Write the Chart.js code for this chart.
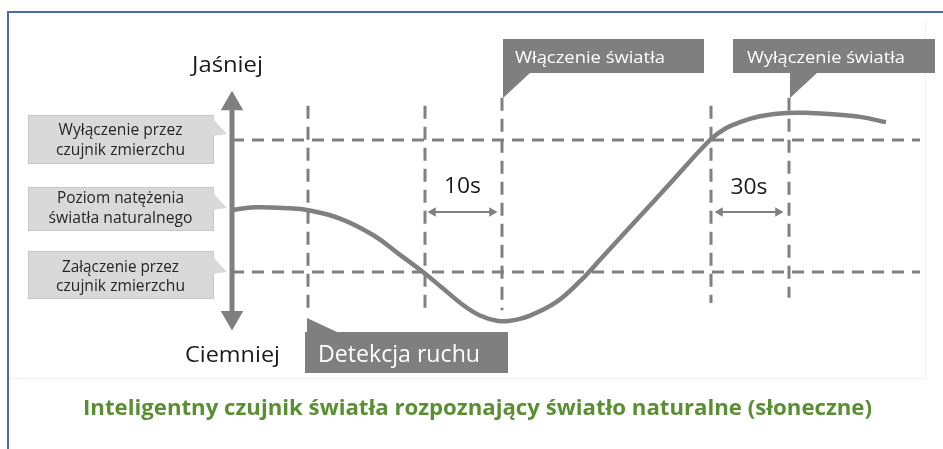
<!DOCTYPE html>
<html lang="pl">
<head>
<meta charset="utf-8">
<title>Inteligentny czujnik światła</title>
<script src="https://cdn.jsdelivr.net/npm/chart.js@4.4.1/dist/chart.umd.min.js"></script>
<style>
  html, body { margin: 0; padding: 0; background: #fff; }
  #wrap { width: 943px; height: 449px; }
</style>
</head>
<body>
<div id="wrap"><canvas id="sensorChart" width="943" height="449"></canvas></div>
<script>
// natural light curve: time (arbitrary units) vs light level
const curveTime  = [0, 2.3, 5.8, 7.5, 10.8, 14.1, 16.8, 19.1, 21.1, 23.1, 24.8, 26.5, 27.8, 29.8, 32.5, 34.8, 36.8, 40.1, 43.8, 47.8, 49.3, 50.8, 52.8, 55.5, 57.8, 60.1, 62.8, 65.4];
const curveLevel = [1.94, 1.98, 1.965, 1.94, 1.81, 1.56, 1.26, 1.00, 0.75, 0.50, 0.34, 0.26, 0.26, 0.34, 0.55, 0.86, 1.185, 1.73, 2.34, 3.00, 3.17, 3.27, 3.36, 3.41, 3.41, 3.39, 3.35, 3.27];

// dusk sensor thresholds (off, on)
const thresholdLevels = [3.0, 1.0];
const thresholdSpan = [0, 68.8];

// event markers (vertical dashed lines)
const markerTime   = [7.6, 19.3, 27.0, 47.9, 55.7];
const markerTop    = [3.52, 3.52, 3.64, 3.52, 3.64];
const markerBottom = [0.38, 0.38, 0.42, 0.53, 0.61];

// brightness axis
const axisTime = 0;
const axisEnds = [3.55, 0.31];

// delays
const delayLabels = ['10s', '30s'];
const delayStart  = [20.1, 48.8];
const delayEnd    = [26.0, 54.6];
const delayLevel  = 1.91;

// texts
const axisLabels = ['Jaśniej', 'Ciemniej'];
const sideLabels = [
    ['Wyłączenie przez', 'czujnik zmierzchu'],
    ['Poziom natężenia', 'światła naturalnego'],
    ['Załączenie przez', 'czujnik zmierzchu']
];
const eventLabels = ['Włączenie światła', 'Wyłączenie światła', 'Detekcja ruchu'];
const chartTitle = 'Inteligentny czujnik światła rozpoznający światło naturalne (słoneczne)';

const GREY = '#808080';
const FONT = '"Open Sans", "Noto Sans", sans-serif';

function fitText(ctx, text, x, y, width, align) {
    const natural = ctx.measureText(text).width;
    ctx.save();
    ctx.translate(x, y);
    ctx.scale(width / natural, 1);
    ctx.textAlign = align;
    ctx.textBaseline = 'alphabetic';
    ctx.fillText(text, 0, 0);
    ctx.restore();
}

function triangle(ctx, pts, color) {
    ctx.beginPath();
    ctx.moveTo(pts[0][0], pts[0][1]);
    ctx.lineTo(pts[1][0], pts[1][1]);
    ctx.lineTo(pts[2][0], pts[2][1]);
    ctx.closePath();
    ctx.fillStyle = color;
    ctx.fill();
}

const datasets = [];

datasets.push({
    label: 'Światło naturalne',
    data: curveTime.map((t, i) => ({ x: t, y: curveLevel[i] })),
    borderColor: GREY,
    borderWidth: 4.5,
    pointRadius: 0,
    tension: 0.4,
    order: 0
});

thresholdLevels.forEach(level => {
    datasets.push({
        data: thresholdSpan.map(t => ({ x: t, y: level })),
        borderColor: GREY,
        borderWidth: 3,
        borderDash: [12, 8],
        pointRadius: 0,
        order: 2
    });
});

markerTime.forEach((t, i) => {
    datasets.push({
        data: [{ x: t, y: markerTop[i] }, { x: t, y: markerBottom[i] }],
        borderColor: GREY,
        borderWidth: 3,
        borderDash: [13, 8],
        pointRadius: 0,
        order: 2
    });
});

datasets.push({
    data: axisEnds.map(v => ({ x: axisTime, y: v })),
    borderColor: '#7f7f7f',
    backgroundColor: '#7f7f7f',
    borderWidth: 5,
    pointStyle: 'triangle',
    pointRadius: 13,
    pointBorderWidth: 0,
    pointRotation: [0, 180],
    order: 1
});

delayStart.forEach((t, i) => {
    datasets.push({
        data: [{ x: t, y: delayLevel }, { x: delayEnd[i], y: delayLevel }],
        borderColor: GREY,
        backgroundColor: GREY,
        borderWidth: 2,
        pointStyle: 'triangle',
        pointRadius: 5.5,
        pointBorderWidth: 0,
        pointRotation: [270, 90],
        order: 1
    });
});

const annotations = {
    id: 'annotations',
    beforeDraw(chart) {
        const ctx = chart.ctx;
        ctx.save();
        ctx.fillStyle = '#fff';
        ctx.fillRect(0, 0, chart.width, chart.height);
        // faint inner picture edge
        ctx.strokeStyle = '#f1f1f1';
        ctx.lineWidth = 1;
        ctx.beginPath();
        ctx.moveTo(925.5, 20);
        ctx.lineTo(925.5, 378.5);
        ctx.lineTo(10, 378.5);
        ctx.stroke();
        // blue frame
        ctx.strokeStyle = '#4a6aaa';
        ctx.lineWidth = 2;
        ctx.beginPath();
        ctx.moveTo(8, 449);
        ctx.lineTo(8, 12);
        ctx.lineTo(943, 12);
        ctx.stroke();
        ctx.restore();
    },
    afterDatasetsDraw(chart) {
        const ctx = chart.ctx;
        ctx.save();

        // side callouts
        const sideBoxes = [
            { top: 115, bottom: 163, tip: 134, base: [135, 155], widths: [124, 129] },
            { top: 187, bottom: 230, tip: 208, base: [203, 223], widths: [127, 144] },
            { top: 251, bottom: 298, tip: 272, base: [272, 291], widths: [117, 129] }
        ];
        sideBoxes.forEach((b, i) => {
            ctx.fillStyle = '#d9d9d9';
            ctx.fillRect(28, b.top, 185, b.bottom - b.top);
            ctx.strokeStyle = '#c8c8c8';
            ctx.lineWidth = 1;
            ctx.strokeRect(28.5, b.top + 0.5, 185, b.bottom - b.top);
            triangle(ctx, [[213, b.tip - 15], [227, b.tip], [213, b.tip + 2]], '#d9d9d9');
            ctx.fillStyle = '#262626';
            ctx.font = '15.5px ' + FONT;
            sideLabels[i].forEach((line, j) => fitText(ctx, line, 120.5, b.base[j], b.widths[j], 'center'));
        });

        // event callouts
        const dark = '#7f7f7f';
        const eventBoxes = [
            { left: 503, right: 704, top: 39, bottom: 73, textX: 515, base: 63, width: 150, size: 17,
              tail: [[503, 73], [530, 73], [503, 98]] },
            { left: 733, right: 935, top: 39, bottom: 73, textX: 747, base: 63, width: 158, size: 17,
              tail: [[790, 73], [817, 73], [790, 98]] },
            { left: 305, right: 508, top: 332, bottom: 373, textX: 318, base: 362, width: 162, size: 24,
              tail: [[307, 318], [307, 332], [337, 332]] }
        ];
        eventBoxes.forEach((b, i) => {
            ctx.fillStyle = dark;
            ctx.fillRect(b.left, b.top, b.right - b.left, b.bottom - b.top);
            triangle(ctx, b.tail, dark);
            ctx.fillStyle = '#fff';
            ctx.font = b.size + 'px ' + FONT;
            fitText(ctx, eventLabels[i], b.textX, b.base, b.width, 'left');
        });

        // axis ends
        ctx.fillStyle = '#1a1a1a';
        ctx.font = '22px ' + FONT;
        fitText(ctx, axisLabels[0], 227.5, 72, 71, 'center');
        fitText(ctx, axisLabels[1], 232.5, 362, 95, 'center');

        // delay labels
        const xs = chart.scales.x;
        ctx.font = '22px ' + FONT;
        delayLabels.forEach((lab, i) => {
            const cx = (xs.getPixelForValue(delayStart[i]) + xs.getPixelForValue(delayEnd[i])) / 2;
            fitText(ctx, lab, cx, 193 + i, 37, 'center');
        });

        // title
        ctx.fillStyle = '#5a8e32';
        ctx.font = 'bold 22px ' + FONT;
        fitText(ctx, chartTitle, 477.5, 415, 789, 'center');

        ctx.restore();
    }
};

new Chart(document.getElementById('sensorChart'), {
    type: 'line',
    data: { datasets: datasets },
    options: {
        responsive: false,
        animation: false,
        events: [],
        layout: { padding: 0, autoPadding: false },
        plugins: {
            legend: { display: false },
            tooltip: { enabled: false }
        },
        scales: {
            x: { type: 'linear', display: false, min: -23.2, max: 71.1 },
            y: { type: 'linear', display: false, min: -1.682, max: 5.121 }
        }
    },
    plugins: [annotations]
});
</script>
</body>
</html>
